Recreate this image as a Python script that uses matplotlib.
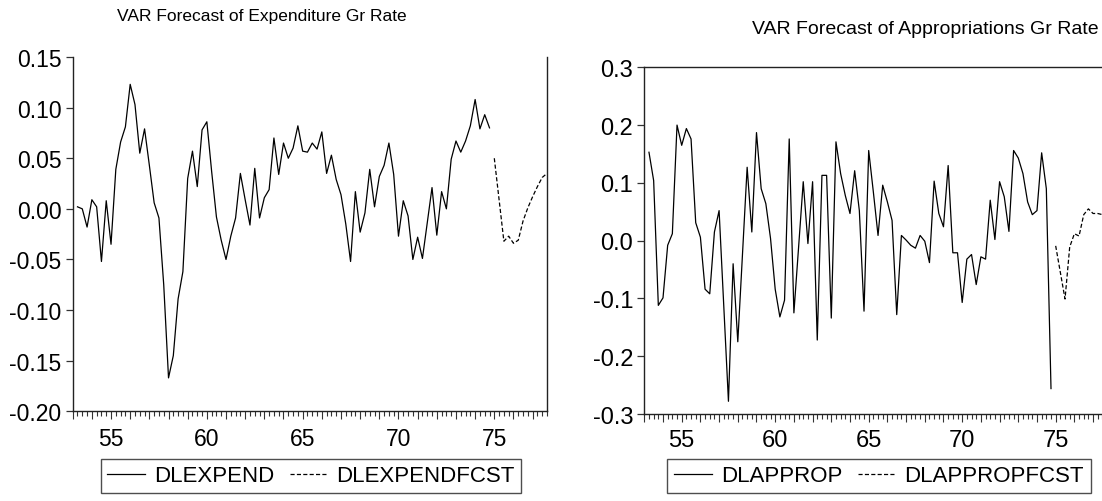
import numpy as np
import matplotlib
matplotlib.use("Agg")
import matplotlib.pyplot as plt
from matplotlib.ticker import FixedLocator, MultipleLocator, FuncFormatter
from matplotlib.lines import Line2D

plt.rcParams["font.family"] = ["Liberation Sans", "DejaVu Sans"]

# Quarterly growth rates, 1953Q2-1974Q4
dlexpend = [
    0.002, 0.000, -0.018,
    0.009, 0.002, -0.052, 0.008,
    -0.035, 0.039, 0.066, 0.081,
    0.123, 0.103, 0.055, 0.079,
    0.043, 0.006, -0.009, -0.075,
    -0.167, -0.145, -0.089, -0.062,
    0.030, 0.057, 0.022, 0.078,
    0.086, 0.037, -0.008, -0.031,
    -0.050, -0.027, -0.009, 0.035,
    0.009, -0.016, 0.040, -0.009,
    0.011, 0.019, 0.070, 0.034,
    0.065, 0.050, 0.060, 0.082,
    0.057, 0.056, 0.065, 0.059,
    0.076, 0.035, 0.053, 0.029,
    0.014, -0.015, -0.052, 0.017,
    -0.023, -0.004, 0.039, 0.002,
    0.032, 0.043, 0.065, 0.034,
    -0.027, 0.008, -0.007, -0.050,
    -0.028, -0.049, -0.014, 0.021,
    -0.026, 0.017, 0.000, 0.049,
    0.067, 0.056, 0.067, 0.082,
    0.108, 0.079, 0.093, 0.080,
]
dlapprop = [
    0.153, 0.104, -0.112,
    -0.099, -0.008, 0.012, 0.200,
    0.165, 0.194, 0.176, 0.031,
    0.006, -0.084, -0.092, 0.015,
    0.052, -0.113, -0.278, -0.040,
    -0.175, -0.024, 0.127, 0.015,
    0.187, 0.090, 0.064, 0.004,
    -0.084, -0.132, -0.103, 0.176,
    -0.125, -0.012, 0.102, -0.005,
    0.102, -0.172, 0.113, 0.113,
    -0.134, 0.171, 0.116, 0.078,
    0.047, 0.121, 0.052, -0.122,
    0.156, 0.084, 0.009, 0.096,
    0.067, 0.035, -0.128, 0.009,
    0.001, -0.008, -0.013, 0.009,
    -0.001, -0.038, 0.103, 0.047,
    0.024, 0.130, -0.021, -0.021,
    -0.107, -0.032, -0.024, -0.076,
    -0.028, -0.032, 0.070, 0.002,
    0.102, 0.076, 0.016, 0.156,
    0.143, 0.116, 0.067, 0.045,
    0.052, 0.152, 0.090, -0.256,
]
# VAR forecasts, 1975Q1-1977Q4
dlexpendfcst = [0.050, 0.009, -0.032, -0.027, -0.034, -0.031,
                -0.012, 0.001, 0.012, 0.022, 0.031, 0.035]
dlappropfcst = [-0.009, -0.055, -0.101, -0.011, 0.012, 0.008,
                0.045, 0.055, 0.047, 0.047, 0.045, 0.044]

hist_start = 1953.25   # 1953Q2
fcst_start = 1975.0    # 1975Q1
year_labels = [55, 60, 65, 70, 75]

t_hist = hist_start + 0.25 * np.arange(len(dlexpend))
t_fcst = fcst_start + 0.25 * np.arange(len(dlexpendfcst))

W, H = 1102, 502
fig = plt.figure(figsize=(W / 100, H / 100), dpi=100)

ax1 = fig.add_axes([72.7 / W, 1 - 412.3 / H, (547 - 72.7) / W, (412.3 - 58) / H])
ax2 = fig.add_axes([644.3 / W, 1 - 415 / H, 462.8 / W, (415 - 68.3) / H])

LW = 0.9
dash = (0, (3.3, 1.8))


def fmt_value(v, fmt):
    s = fmt.format(round(v, 6))
    return s[1:] if s.startswith("-") and float(s) == 0 else s


def style_axis(ax, ylim, yticks, yfmt, size):
    ax.set_xlim(1953.0, 1977.75)
    ax.set_ylim(*ylim)
    ax.xaxis.set_major_locator(FixedLocator(np.arange(1953, 1978)))
    ax.xaxis.set_minor_locator(MultipleLocator(0.25))
    ax.xaxis.set_major_formatter(FuncFormatter(
        lambda v, p: f"{int(round(v)) % 100}" if int(round(v)) % 100 in year_labels else ""))
    ax.yaxis.set_major_locator(FixedLocator(yticks))
    ax.yaxis.set_major_formatter(FuncFormatter(lambda v, p: fmt_value(v, yfmt)))
    ax.tick_params(axis="x", which="major", direction="out", length=6, width=0.8,
                   pad=5, labelsize=size, color="#333333")
    ax.tick_params(axis="x", which="minor", direction="out", length=3.5, width=0.8,
                   color="#333333")
    ax.tick_params(axis="y", which="major", direction="out", length=5, width=0.9,
                   pad=3, labelsize=size, color="#333333")
    for s in ax.spines.values():
        s.set_linewidth(1.0)
        s.set_color("#222222")


ax1.plot(t_hist, dlexpend, color="black", lw=LW)
ax1.plot(t_fcst, dlexpendfcst, color="black", lw=LW, linestyle=dash)
style_axis(ax1, (-0.20, 0.15), np.arange(-0.20, 0.151, 0.05), "{:.2f}", 16.5)
ax1.spines["top"].set_visible(False)

ax2.plot(t_hist, dlapprop, color="black", lw=LW)
ax2.plot(t_fcst, dlappropfcst, color="black", lw=LW, linestyle=dash)
style_axis(ax2, (-0.30, 0.30), np.arange(-0.3, 0.301, 0.1), "{:.1f}", 17)
ax2.spines["right"].set_visible(False)

fig.text(262 / W, 1 - 17 / H, "VAR Forecast of Expenditure Gr Rate",
         ha="center", va="center", fontsize=12.5)
fig.text(925 / W, 1 - 30 / H, "VAR Forecast of Appropriations Gr Rate",
         ha="center", va="center", fontsize=14)


def add_legend(ax, labels, cx, size):
    handles = [Line2D([], [], color="black", lw=LW),
               Line2D([], [], color="black", lw=LW, linestyle=dash)]
    leg = ax.legend(handles, labels, ncol=2, loc="center",
                    bbox_to_anchor=(cx / W, 1 - 477 / H),
                    bbox_transform=fig.transFigure, frameon=True, fancybox=False,
                    fontsize=size, handlelength=1.7, handletextpad=0.4,
                    columnspacing=0.7, borderpad=0.3, borderaxespad=0)
    leg.get_frame().set_edgecolor("#222222")
    leg.get_frame().set_linewidth(1.0)


add_legend(ax1, ["DLEXPEND", "DLEXPENDFCST"], 311, 16)
add_legend(ax2, ["DLAPPROP", "DLAPPROPFCST"], 879, 16)

fig.savefig("out.png", dpi=100)
